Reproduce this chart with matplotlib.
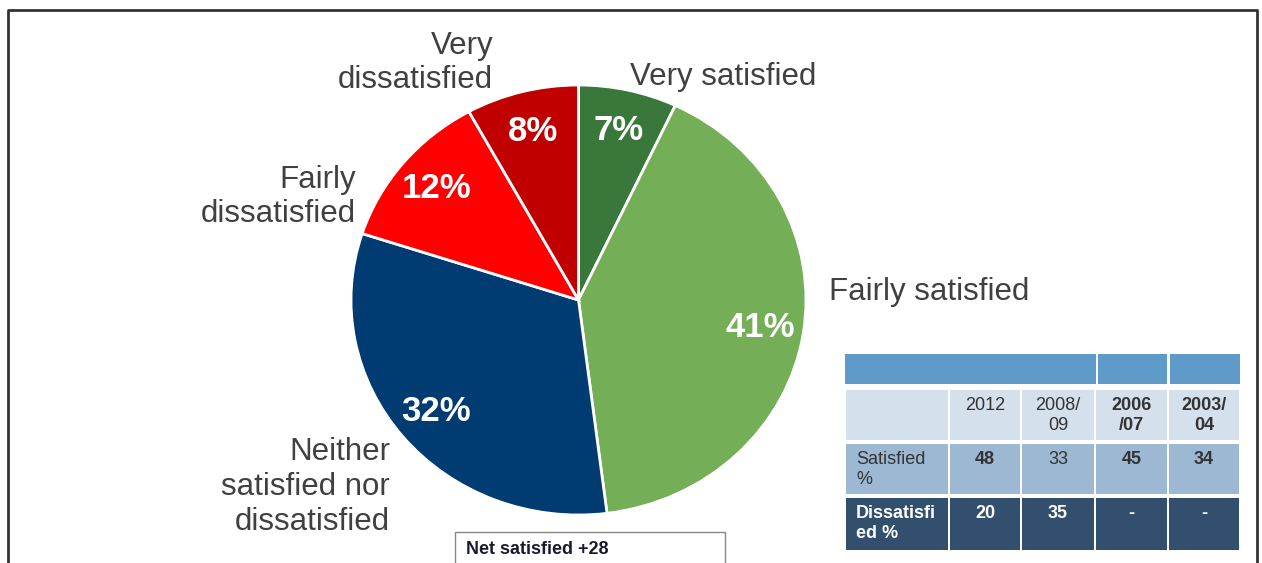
import matplotlib.pyplot as plt
from matplotlib.patches import Rectangle

plt.rcParams["font.family"] = ["Liberation Sans", "DejaVu Sans"]

# satisfaction breakdown, clockwise from 12 o'clock
categories = ["Very satisfied", "Fairly satisfied", "Neither\nsatisfied nor\ndissatisfied",
              "Fairly\ndissatisfied", "Very\ndissatisfied"]
shares = [7, 41, 32, 12, 8]
colors = ["#3A773A", "#74AE57", "#003B71", "#FF0000", "#C00000"]

# trend table
years = ["2012", "2008/\n09", "2006\n/07", "2003/\n04"]
satisfied = ["48", "33", "45", "34"]
dissatisfied = ["20", "35", "-", "-"]
net_label = "Net satisfied +28"

W, H = 1262, 563
fig = plt.figure(figsize=(W / 100, H / 100), dpi=100)


def px(x0, y0, x1, y1):
    # pixel box (top-left origin) -> figure fraction rect
    return [x0 / W, 1 - y1 / H, (x1 - x0) / W, (y1 - y0) / H]


bg = fig.add_axes([0, 0, 1, 1])
bg.set_xlim(0, W)
bg.set_ylim(H, 0)
bg.axis("off")
# outer frame (bottom edge runs off the image)
bg.plot([8, 8, 1257, 1257], [H + 5, 10, 10, H + 5], color="#333333", lw=2)

ax = fig.add_axes(px(351, 85, 806, 515))
wedges, texts, autotexts = ax.pie(
    shares, colors=colors, startangle=90, counterclock=False,
    autopct=lambda p: f"{p:.0f}%", pctdistance=0.81,
    wedgeprops=dict(edgecolor="white", linewidth=2),
    textprops=dict(color="white", fontsize=25, fontweight="bold"),
)
ax.set_aspect("auto")
ax.set_xlim(-1.0, 1.0)
ax.set_ylim(-1.0, 1.0)

# category labels around the pie
label_pos = [(630, 77, "left"), (829, 292, "left"), (390, 487, "right"),
             (356, 197, "right"), (493, 63, "right")]
for name, (x, y, ha) in zip(categories, label_pos):
    bg.text(x, y, name, ha=ha, va="center", fontsize=22.5, color="#404040",
            linespacing=1.2, multialignment=ha)

# net satisfied box
bg.add_patch(Rectangle((455, 532), 270, 40, facecolor="white", edgecolor="#888888", lw=1))
bg.text(466, 549, net_label, fontsize=13, fontweight="bold", color="#1A1A2E", va="center")

# table
col_x = [845, 949, 1021, 1095, 1168, 1240]
gap = 2
# header strip
for x0, x1 in [(845, 1096), (1098, 1167), (1170, 1240)]:
    bg.add_patch(Rectangle((x0, 354), x1 - x0, 30, facecolor="#5F9BC9", edgecolor="none"))

rows = [
    (390, 442, "#D4E0EB", "#333333", [""] + years, [False, False, False, True, True]),
    (444, 496, "#9DB8D2", "#333333", ["Satisfied\n%"] + satisfied, [False, True, False, True, True]),
    (498, 552, "#324F6E", "white", ["Dissatisfi\ned %"] + dissatisfied, [True] * 5),
]
for y0, y1, fc, tc, cells, bold in rows:
    for i in range(5):
        x0, x1 = col_x[i] + gap / 2, col_x[i + 1] - gap / 2
        bg.add_patch(Rectangle((x0, y0), x1 - x0, y1 - y0 - gap, facecolor=fc, edgecolor="none"))
        weight = "bold" if bold[i] else "normal"
        if i == 0:
            bg.text(x0 + 10, y0 + 7, cells[i], ha="left", va="top", fontsize=13, color=tc,
                    fontweight=weight, linespacing=1.2)
        else:
            bg.text((x0 + x1) / 2, y0 + 7, cells[i], ha="center", va="top", fontsize=13, color=tc,
                    fontweight=weight, linespacing=1.2)

fig.savefig("out.png", dpi=100)
